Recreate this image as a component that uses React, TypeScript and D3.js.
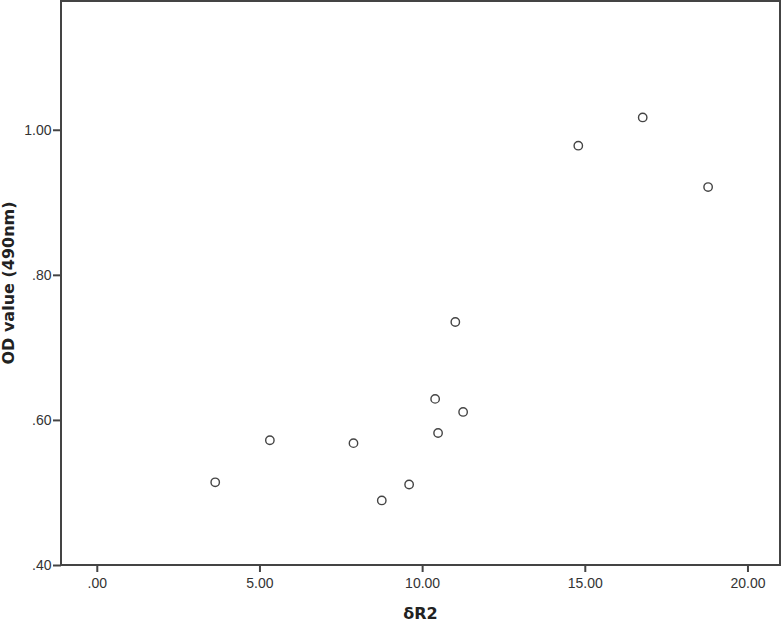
import React, { useEffect, useRef } from "react";
import * as d3 from "d3";

// δR2 vs OD value (490nm)
const deltaR2 = [3.64, 5.32, 7.89, 8.76, 9.6, 10.4, 10.49, 11.26, 11.02, 14.8, 16.78, 18.79];
const odValue = [0.514, 0.572, 0.568, 0.489, 0.511, 0.629, 0.582, 0.611, 0.735, 0.978, 1.017, 0.921];
const xTicks = [0, 5, 10, 15, 20];
const yTicks = [0.4, 0.6, 0.8, 1.0];

const W = 784;
const H = 623;

export default function App() {
  const ref = useRef<SVGSVGElement>(null);

  useEffect(() => {
    const svg = d3.select(ref.current);
    svg.selectAll("*").remove();

    const margin = { top: 1, right: 4, bottom: 58, left: 61 };
    const x = d3.scaleLinear().domain([-1.1, 21.0]).range([margin.left, W - margin.right]);
    const y = d3.scaleLinear().domain([0.4, 1.1775]).range([H - margin.bottom, margin.top]);

    const fmt = (d: number) => d.toFixed(2).replace(/^0\./, ".");

    // x axis
    const gx = svg
      .append("g")
      .attr("transform", `translate(0,${H - margin.bottom})`)
      .call(d3.axisBottom(x).tickValues(xTicks).tickFormat(d => fmt(+d)).tickSize(7).tickPadding(6));
    gx.select(".domain").remove();

    // y axis
    const gy = svg
      .append("g")
      .attr("transform", `translate(${margin.left},0)`)
      .call(d3.axisLeft(y).tickValues(yTicks).tickFormat(d => fmt(+d)).tickSize(8).tickPadding(1.5));
    gy.select(".domain").remove();

    svg
      .selectAll(".tick line")
      .attr("stroke", "#444")
      .attr("stroke-width", 2);
    svg
      .selectAll(".tick text")
      .attr("fill", "#333")
      .style("font-family", "Liberation Sans, Arial, sans-serif")
      .style("font-size", "14px");

    // frame
    svg
      .append("rect")
      .attr("x", margin.left)
      .attr("y", margin.top)
      .attr("width", W - margin.left - margin.right)
      .attr("height", H - margin.top - margin.bottom)
      .attr("fill", "none")
      .attr("stroke", "#444")
      .attr("stroke-width", 2);

    // points
    svg
      .selectAll(".pt")
      .data(deltaR2.map((d, i) => ({ x: d, y: odValue[i] })))
      .enter()
      .append("circle")
      .attr("class", "pt")
      .attr("cx", d => x(d.x))
      .attr("cy", d => y(d.y))
      .attr("r", 4.2)
      .attr("fill", "white")
      .attr("stroke", "#444")
      .attr("stroke-width", 1.4);

    // axis titles
    svg
      .append("text")
      .attr("x", (margin.left + W - margin.right) / 2)
      .attr("y", 619)
      .attr("text-anchor", "middle")
      .style("font-family", "DejaVu Sans, sans-serif")
      .style("font-size", "16px")
      .style("font-weight", "bold")
      .attr("fill", "#222")
      .text("δR2");

    svg
      .append("text")
      .attr("transform", `translate(14,${(margin.top + H - margin.bottom) / 2}) rotate(-90)`)
      .attr("text-anchor", "middle")
      .style("font-family", "DejaVu Sans, sans-serif")
      .style("font-size", "16px")
      .style("font-weight", "bold")
      .attr("fill", "#222")
      .text("OD value (490nm)");
  }, []);

  return (
    <svg
      ref={ref}
      width={W}
      height={H}
      style={{ position: "absolute", left: 0, top: 0, background: "white" }}
    />
  );
}
